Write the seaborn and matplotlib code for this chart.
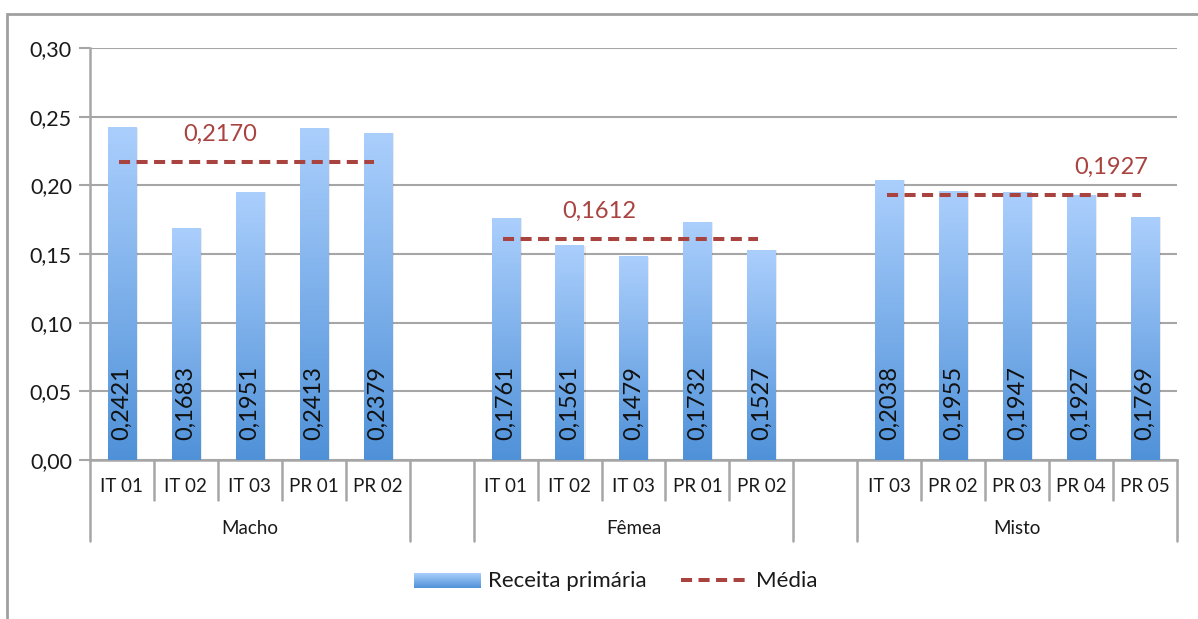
import numpy as np
import pandas as pd
import matplotlib
matplotlib.use("Agg")
import matplotlib.pyplot as plt
import matplotlib.transforms as mtransforms
from matplotlib.colors import LinearSegmentedColormap
from matplotlib.lines import Line2D
from matplotlib.patches import Rectangle
import seaborn as sns

# ---- data -------------------------------------------------------------
groups = ["Macho", "Fêmea", "Misto"]
macho_labels = ["IT 01", "IT 02", "IT 03", "PR 01", "PR 02"]
femea_labels = ["IT 01", "IT 02", "IT 03", "PR 01", "PR 02"]
misto_labels = ["IT 03", "PR 02", "PR 03", "PR 04", "PR 05"]
macho_values = [0.2421, 0.1683, 0.1951, 0.2413, 0.2379]
femea_values = [0.1761, 0.1561, 0.1479, 0.1732, 0.1527]
misto_values = [0.2038, 0.1955, 0.1947, 0.1927, 0.1769]
group_means = [0.2170, 0.1612, 0.1927]
mean_label_pos = [1.53, 7.47, 15.47]   # x position (slot units) of each mean label

y_ticks = [0.00, 0.05, 0.10, 0.15, 0.20, 0.25, 0.30]

# ---- layout of the category slots (one empty slot between groups) ----
group_items = [
    (macho_labels, macho_values),
    (femea_labels, femea_values),
    (misto_labels, misto_values),
]
rows = []
order = []
group_spans = []
slot = 0
for gi, (labels, values) in enumerate(group_items):
    start = slot
    for lab, val in zip(labels, values):
        key = f"{groups[gi]}|{lab}"
        rows.append({"key": key, "categoria": lab, "grupo": groups[gi], "valor": val})
        order.append(key)
        slot += 1
    group_spans.append((start, slot - 1))
    if gi < len(group_items) - 1:
        order.append(f"gap{gi}")
        slot += 1
df = pd.DataFrame(rows)
n_slots = len(order)

# ---- style ------------------------------------------------------------
sns.set_theme(style="white")
plt.rcParams["font.family"] = ["Lato", "DejaVu Sans"]

grid_col = "#a6a6a6"
mean_col = "#a8433f"
text_col = "#1a1a1a"
mean_dash = (2.75, 1.6)
mean_lw = 2.9

fig = plt.figure(figsize=(11.98, 6.19), dpi=100)
ax = fig.add_axes([90 / 1198, 159 / 619, (1177 - 90) / 1198, 412 / 619])

sns.barplot(data=df, x="key", y="valor", order=order, ax=ax,
            width=0.44, color="#7fb0ec", errorbar=None, saturation=1)

ax.set_xlim(-0.5, n_slots - 0.5)
ax.set_ylim(0, 0.30)
ax.set_xlabel("")
ax.set_ylabel("")
ax.set_xticks([])
ax.set_yticks(y_ticks)
ax.set_yticklabels([f"{t:.2f}".replace(".", ",") for t in y_ticks],
                   fontsize=15.5, color=text_col)
ax.tick_params(axis="y", direction="out", length=8, width=1.5,
               color=grid_col, pad=5, left=True)
ax.yaxis.grid(True, color=grid_col, lw=1.5)
ax.set_axisbelow(True)
for s in ["top", "right"]:
    ax.spines[s].set_visible(False)
ax.spines["left"].set_color(grid_col)
ax.spines["left"].set_linewidth(1.8)
ax.spines["bottom"].set_color(grid_col)
ax.spines["bottom"].set_linewidth(1.8)

# ---- vertical gradient fill for the bars ----------------------------
cmap = LinearSegmentedColormap.from_list("bar_grad", ["#4f91d8", "#abcffd"])
grad = np.linspace(0, 1, 256).reshape(-1, 1)
bars = [p for p in ax.patches if p.get_height() > 0]
for p in bars:
    x0, w, h = p.get_x(), p.get_width(), p.get_height()
    # soft shadow on the right side
    ax.add_patch(Rectangle((x0 + 0.03, 0), w, h, facecolor="#000000",
                           alpha=0.08, lw=0, zorder=2))
    ax.imshow(grad, cmap=cmap, origin="lower", aspect="auto",
              extent=(x0, x0 + w, 0, h), zorder=3)
    p.set_facecolor("none")
    p.set_edgecolor("none")
ax.set_xlim(-0.5, n_slots - 0.5)
ax.set_ylim(0, 0.30)

# value labels inside the bars
for p in bars:
    cx = p.get_x() + p.get_width() / 2
    val = p.get_height()
    ax.text(cx, 0.0145, f"{val:.4f}".replace(".", ","), rotation=90,
            ha="center", va="bottom", fontsize=17, color="#111111", zorder=5)

# ---- group averages ----------------------------------------------------
for (s0, s1), m, lx in zip(group_spans, group_means, mean_label_pos):
    ax.plot([s0 - 0.04, s1 - 0.06], [m, m], color=mean_col, lw=mean_lw,
            dashes=mean_dash, zorder=4, dash_capstyle="butt")
    ax.text(lx, m + 0.0125, f"{m:.4f}".replace(".", ","), ha="center",
            va="bottom", fontsize=17, color=mean_col, zorder=5)

# ---- two-level category axis ---------------------------------------
trans = mtransforms.blended_transform_factory(ax.transData, ax.transAxes)
short_y = -40 / 412
long_y = -81 / 412
boundaries = np.arange(n_slots + 1) - 0.5
full_bounds = {boundaries[0], boundaries[-1]}
for s0, s1 in group_spans:
    full_bounds.add(s0 - 0.5)
    full_bounds.add(s1 + 0.5)
for b in boundaries:
    y_end = long_y if b in full_bounds else short_y
    ax.add_line(Line2D([b, b], [0, y_end], transform=trans, color=grid_col,
                       lw=1.8, clip_on=False))

for i, key in enumerate(order):
    if key.startswith("gap"):
        continue
    ax.text(i, -27 / 412, key.split("|")[1], transform=trans, ha="center",
            va="center", fontsize=13.5, color=text_col)
for (s0, s1), g in zip(group_spans, groups):
    ax.text((s0 + s1) / 2, -68 / 412, g, transform=trans, ha="center",
            va="center", fontsize=13.5, color=text_col)

# ---- legend -------------------------------------------------------------
fig_h, fig_w = 619, 1198
leg_ax = fig.add_axes([414 / fig_w, (619 - 588) / fig_h, 67 / fig_w, 15 / fig_h])
leg_ax.imshow(grad, cmap=cmap, origin="lower", aspect="auto", extent=(0, 1, 0, 1))
leg_ax.set_axis_off()
fig.text(488 / fig_w, (619 - 581) / fig_h, "Receita primária", ha="left",
         va="center", fontsize=16, color=text_col)
fig.add_artist(Line2D([681 / fig_w, 750 / fig_w], [(619 - 580) / fig_h] * 2,
                      transform=fig.transFigure, color=mean_col, lw=mean_lw,
                      dashes=mean_dash, dash_capstyle="butt"))
fig.text(756 / fig_w, (619 - 581) / fig_h, "Média", ha="left", va="center",
         fontsize=16, color=text_col)

# ---- chart frame -------------------------------------------------------
fig.add_artist(Rectangle((7 / fig_w, -0.05), 1.2, (619 - 14) / fig_h + 0.05,
                         transform=fig.transFigure, fill=False,
                         edgecolor="#a0a0a0", lw=2))

fig.savefig("out.png", dpi=100)
